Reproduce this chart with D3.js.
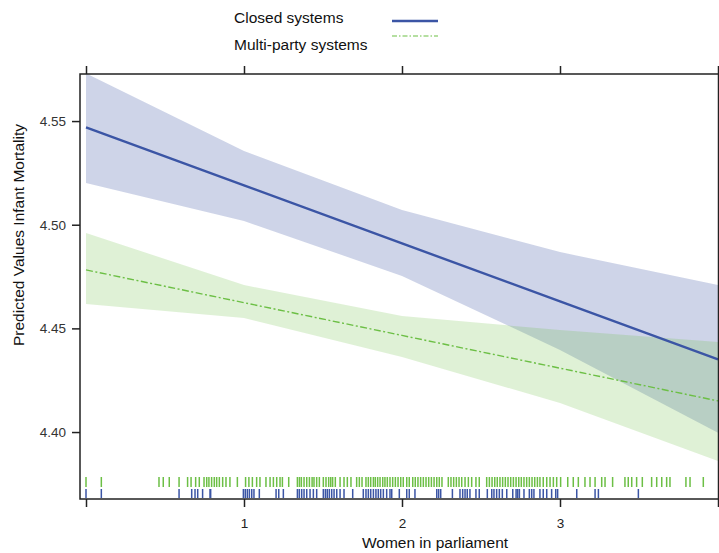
<!DOCTYPE html>
<html>
<head>
<meta charset="utf-8">
<script src="https://cdn.jsdelivr.net/npm/d3@7"></script>
<style>
  html, body { margin: 0; padding: 0; background: #fff; }
  svg { display: block; font-family: "Liberation Sans", Arial, sans-serif; }
</style>
</head>
<body>
<svg id="chart" width="719" height="553"></svg>
<script>
// Predicted infant mortality by share of women in parliament, two party systems
const seriesNames = ["Closed systems", "Multi-party systems"];
const xTicks = [0, 1, 2, 3, 4];
const xTickLabels = ["", "1", "2", "3", ""];
const yTicks = [4.40, 4.45, 4.50, 4.55];

// Evaluation points for the fitted lines and confidence bands
const evalX = [0, 1, 2, 3, 4];
const closedFit   = [4.547, 4.519, 4.491, 4.463, 4.435];
const closedUpper = [4.573, 4.5355, 4.5071, 4.4868, 4.4709];
const closedLower = [4.5201, 4.5018, 4.4753, 4.4396, 4.3997];
const multiFit    = [4.4782, 4.4624, 4.4466, 4.4308, 4.4150];
const multiUpper  = [4.496, 4.4709, 4.456, 4.4492, 4.4434];
const multiLower  = [4.4618, 4.455, 4.4362, 4.414, 4.386];

// Observed values of women in parliament (rug marks)
const multiRug = [0.00, 0.097, 0.462, 0.489, 0.527, 0.589, 0.643, 0.665, 0.694, 0.717,
  0.747, 0.764, 0.778, 0.795, 0.812, 0.827, 0.844, 0.865, 0.886, 0.911, 0.958,
  1.010, 1.031, 1.053, 1.080, 1.101, 1.139, 1.165, 1.186, 1.207, 1.228, 1.243, 1.283,
  1.338, 1.351, 1.363, 1.380, 1.397, 1.414, 1.431, 1.443, 1.460, 1.477,
  1.502, 1.519, 1.536, 1.549, 1.561, 1.578, 1.608, 1.633, 1.654, 1.677,
  1.713, 1.730, 1.747, 1.772, 1.787, 1.802, 1.819, 1.831, 1.846, 1.861, 1.878, 1.892, 1.907, 1.924,
  1.941, 1.958, 1.975, 1.992, 2.008, 2.030, 2.046,
  2.068, 2.084, 2.101, 2.118, 2.135, 2.152, 2.169, 2.186, 2.203, 2.220, 2.236, 2.253,
  2.293, 2.310, 2.327, 2.344, 2.361, 2.378, 2.399, 2.420, 2.441, 2.468, 2.489,
  2.536, 2.553, 2.570, 2.587, 2.603, 2.620, 2.637, 2.654, 2.671, 2.688, 2.705, 2.722,
  2.739, 2.755, 2.772, 2.789, 2.806, 2.823, 2.840, 2.857, 2.873, 2.894, 2.916, 2.937, 2.958, 2.979,
  3.004, 3.049, 3.084, 3.116, 3.158, 3.190, 3.222, 3.264, 3.285, 3.333, 3.411, 3.432,
  3.454, 3.485, 3.521, 3.580, 3.612, 3.644, 3.675, 3.696, 3.797, 3.823, 3.907];
const closedRug = [0.00, 0.097, 0.589, 0.669, 0.690, 0.707, 0.738, 0.785, 0.789,
  0.996, 1.008, 1.021, 1.034, 1.049, 1.063, 1.097, 1.203, 1.220, 1.249,
  1.338, 1.350, 1.365, 1.380, 1.397, 1.418, 1.439, 1.460,
  1.502, 1.515, 1.527, 1.540, 1.555, 1.570, 1.587, 1.608, 1.633, 1.688,
  1.755, 1.772, 1.787, 1.802, 1.819, 1.835, 1.850, 1.865, 1.882, 1.903, 1.924,
  1.935, 1.983, 2.030, 2.046, 2.082, 2.220, 2.232, 2.245, 2.319,
  2.367, 2.384, 2.399, 2.413, 2.430, 2.468, 2.489, 2.540, 2.568, 2.582, 2.599, 2.616,
  2.635, 2.663, 2.701, 2.722, 2.732, 2.743, 2.772, 2.806, 2.821, 2.835,
  2.873, 2.894, 2.916, 2.947, 2.973, 2.985, 3.106, 3.222, 3.243, 3.496];

const blue = "#3b55a5";
const green = "#6cbf45";

const svg = d3.select("#chart");
const box = { left: 80, right: 718.5, top: 74, bottom: 499 };

const x = d3.scaleLinear().domain([0, 4]).range([86, 718]);
const y = d3.scaleLinear().domain([4.3677, 4.5727]).range([box.bottom, box.top]);

const plot = svg.append("g");
svg.append("defs").append("clipPath").attr("id", "plotClip")
  .append("rect").attr("x", box.left).attr("y", box.top)
  .attr("width", box.right - box.left).attr("height", box.bottom - box.top);
const clipped = plot.append("g").attr("clip-path", "url(#plotClip)");

const bandArea = (up, lo) => d3.area()
  .x((d, i) => x(evalX[i]))
  .y0((d, i) => y(lo[i]))
  .y1((d, i) => y(up[i]))(evalX);
const fitLine = vals => d3.line()
  .x((d, i) => x(evalX[i]))
  .y((d, i) => y(vals[i]))(evalX);

// Confidence bands
clipped.append("path").attr("d", bandArea(closedUpper, closedLower))
  .attr("fill", blue).attr("fill-opacity", 0.25);
clipped.append("path").attr("d", bandArea(multiUpper, multiLower))
  .attr("fill", green).attr("fill-opacity", 0.22);

// Fitted lines
clipped.append("path").attr("d", fitLine(closedFit))
  .attr("fill", "none").attr("stroke", blue).attr("stroke-width", 2.4);
clipped.append("path").attr("d", fitLine(multiFit))
  .attr("fill", "none").attr("stroke", green).attr("stroke-width", 1.4)
  .attr("stroke-dasharray", "7,2.5,2,2.5");

// Rug marks
clipped.append("g").selectAll("line").data(multiRug).join("line")
  .attr("x1", d => x(d)).attr("x2", d => x(d))
  .attr("y1", 477).attr("y2", 487)
  .attr("stroke", green).attr("stroke-width", 1.5);
clipped.append("g").selectAll("line").data(closedRug).join("line")
  .attr("x1", d => x(d)).attr("x2", d => x(d))
  .attr("y1", 489).attr("y2", 498)
  .attr("stroke", blue).attr("stroke-width", 1.5);

// Frame
const axisColor = "#222";
svg.append("rect").attr("x", box.left).attr("y", box.top)
  .attr("width", box.right - box.left).attr("height", box.bottom - box.top)
  .attr("fill", "none").attr("stroke", axisColor).attr("stroke-width", 1.5);

// Bottom axis
const xAxisBottom = d3.axisBottom(x).tickValues(xTicks)
  .tickFormat((d, i) => xTickLabels[i]).tickSize(8).tickPadding(11);
const gxb = svg.append("g").attr("transform", `translate(0,${box.bottom})`).call(xAxisBottom);
gxb.select(".domain").remove();
gxb.selectAll(".tick line").attr("stroke", axisColor).attr("stroke-width", 1.5);
gxb.selectAll(".tick text").attr("fill", "#222").attr("font-size", 13.5)
  .attr("font-family", "Liberation Sans, Arial, sans-serif");

// Top axis (ticks only)
const xAxisTop = d3.axisTop(x).tickValues(xTicks).tickFormat("").tickSize(8);
const gxt = svg.append("g").attr("transform", `translate(0,${box.top})`).call(xAxisTop);
gxt.select(".domain").remove();
gxt.selectAll(".tick line").attr("stroke", axisColor).attr("stroke-width", 1.5);

// Left axis
const yAxis = d3.axisLeft(y).tickValues(yTicks).tickFormat(d3.format(".2f"))
  .tickSize(8).tickPadding(6);
const gy = svg.append("g").attr("transform", `translate(${box.left},0)`).call(yAxis);
gy.select(".domain").remove();
gy.selectAll(".tick line").attr("stroke", axisColor).attr("stroke-width", 1.5);
gy.selectAll(".tick text").attr("fill", "#333").attr("font-size", 13.5)
  .attr("font-family", "Liberation Sans, Arial, sans-serif");

// Axis titles
svg.append("text").attr("x", 435).attr("y", 548)
  .attr("text-anchor", "middle").attr("font-size", 15.5).attr("fill", "#111")
  .text("Women in parliament");
svg.append("text")
  .attr("transform", `translate(24,235) rotate(-90)`)
  .attr("text-anchor", "middle").attr("font-size", 15.5).attr("fill", "#111")
  .text("Predicted Values Infant Mortality");

// Legend
const legend = svg.append("g");
legend.append("text").attr("x", 234).attr("y", 23).attr("font-size", 15.5).attr("fill", "#111")
  .text(seriesNames[0]);
legend.append("text").attr("x", 234).attr("y", 50).attr("font-size", 15.5).attr("fill", "#111")
  .text(seriesNames[1]);
legend.append("line").attr("x1", 392).attr("x2", 438).attr("y1", 21).attr("y2", 21)
  .attr("stroke", blue).attr("stroke-width", 2.4);
legend.append("line").attr("x1", 392).attr("x2", 438).attr("y1", 36).attr("y2", 36)
  .attr("stroke", green).attr("stroke-width", 1.2).attr("stroke-dasharray", "5,2,1.5,2");
</script>
</body>
</html>
